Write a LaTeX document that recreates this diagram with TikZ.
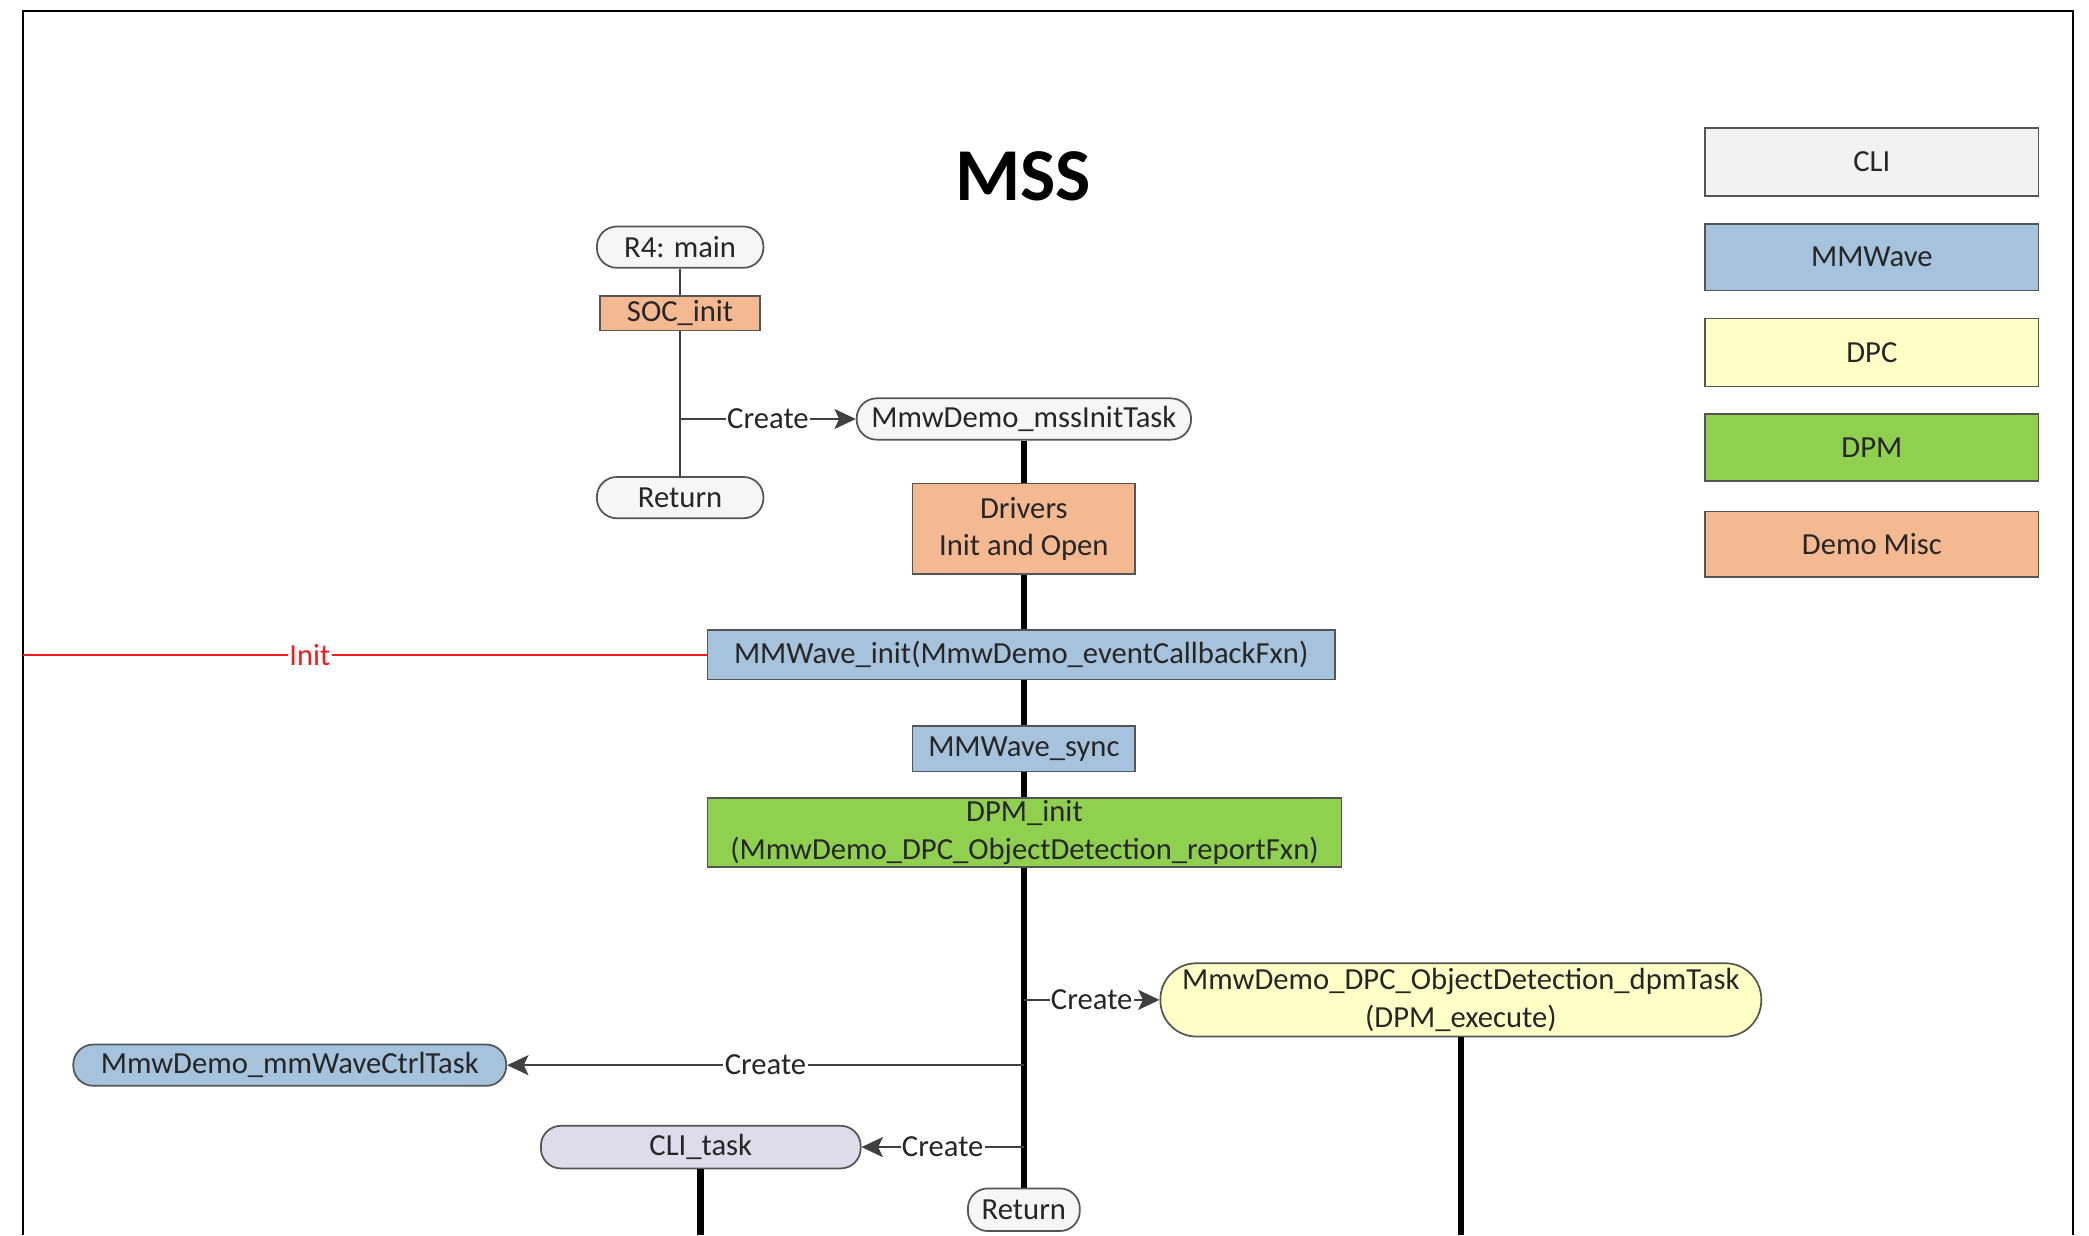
\documentclass[tikz,border=0pt]{standalone}
\usepackage{fontspec}
\setmainfont{Carlito}
\usetikzlibrary{arrows.meta,backgrounds}
\definecolor{txt}{HTML}{262626}
\definecolor{bord}{HTML}{555555}
\definecolor{conn}{HTML}{404040}
\definecolor{grayfill}{HTML}{F6F6F6}
\definecolor{clifill}{HTML}{F2F2F2}
\definecolor{orangefill}{HTML}{F4B990}
\definecolor{bluefill}{HTML}{A6C3DE}
\definecolor{yellowfill}{HTML}{FFFFC6}
\definecolor{greenfill}{HTML}{8FD14F}
\definecolor{lavfill}{HTML}{DEDCEB}
\definecolor{redline}{HTML}{F21C1C}
\begin{document}
\begin{tikzpicture}[x=1pt,y=-1pt,
  every node/.style={font=\fontsize{23}{28}\selectfont, text=txt, inner sep=0pt, align=center},
  stad/.style={draw=bord, line width=1.3pt, fill=#1, rounded corners=15pt},
  boxn/.style={draw=bord, line width=1.3pt, fill=#1},
  thickln/.style={line width=5pt, black},
  thinln/.style={line width=1.5pt, conn},
  arr/.style={thinln, -{Stealth[length=16pt,width=15pt,inset=3.5pt]}},
  lbl/.style={fill=white, inner sep=1pt, text=txt},
  frameln/.style={line width=1.5pt, black}
]
\useasboundingbox (0,0) rectangle (1568,927);

% frame
\coordinate (fbl) at (17,927);
\coordinate (ftl) at (17,8);
\coordinate (ftr) at (1556,8);
\coordinate (fbr) at (1556,927);
\draw[frameln] (fbl) -- (ftl) -- (ftr) -- (fbr);

% title
\node (title) at (768,132) {\fontsize{56}{60}\selectfont\bfseries\color{black}MSS};

% legend
\node[boxn=clifill, minimum width=250pt, minimum height=51pt] (legCLI) at (1405,121.5) {CLI};
\node[boxn=bluefill, minimum width=250pt, minimum height=50pt] (legMMW) at (1405,193) {MMWave};
\node[boxn=yellowfill, minimum width=250pt, minimum height=51pt] (legDPC) at (1405,264.5) {DPC};
\node[boxn=greenfill, minimum width=250pt, minimum height=50pt] (legDPM) at (1405,336) {DPM};
\node[boxn=orangefill, minimum width=250pt, minimum height=49pt] (legMisc) at (1405,408.5) {Demo Misc};

% left: main
\node[stad=grayfill, minimum width=125pt, minimum height=31pt] (r4main) at (510.5,185.5) {R4: main};
\node[boxn=orangefill, minimum width=120pt, minimum height=26pt] (soc) at (510.5,235) {SOC\_init};
\node[stad=grayfill, minimum width=125pt, minimum height=31pt] (ret1) at (510.5,373.5) {Return};

% center column
\node[stad=grayfill, minimum width=251pt, minimum height=31pt] (initTask) at (768.5,314.5) {MmwDemo\_mssInitTask};
\node[boxn=orangefill, minimum width=167pt, minimum height=68pt] (drv) at (768.5,397) {Drivers\\Init and Open};
\node[boxn=bluefill, minimum width=471pt, minimum height=37pt] (mmwinit) at (766.5,491.5) {MMWave\_init(MmwDemo\_eventCallbackFxn)};
\node[boxn=bluefill, minimum width=167pt, minimum height=34pt] (mmwsync) at (768.5,562) {MMWave\_sync};
\node[boxn=greenfill, minimum width=476pt, minimum height=52pt] (dpminit) at (769,625) {DPM\_init\\(MmwDemo\_DPC\_ObjectDetection\_reportFxn)};
\node[stad=yellowfill, rounded corners=27pt, minimum width=451pt, minimum height=55pt] (dpctask) at (1096.5,750.5) {MmwDemo\_DPC\_ObjectDetection\_dpmTask\\(DPM\_execute)};
\node[stad=bluefill, minimum width=325pt, minimum height=31pt] (ctrltask) at (217.5,799.5) {MmwDemo\_mmWaveCtrlTask};
\node[stad=lavfill, minimum width=240pt, minimum height=32pt] (clitask) at (526,861) {CLI\_task};
\node[stad=grayfill, minimum width=84pt, minimum height=32pt] (ret2) at (768.5,908) {Return};

% helper coordinates
\coordinate (c1) at (ret1.north |- initTask.west);
\coordinate (c2) at (initTask.south |- dpctask.west);
\coordinate (c3) at (initTask.south |- ctrltask.east);
\coordinate (c4) at (initTask.south |- clitask.east);
\coordinate (initL) at (ftl |- mmwinit.west);
\coordinate (dpcEnd) at (dpctask.south |- fbl);
\coordinate (cliEnd) at (clitask.south |- fbl);

\begin{scope}[on background layer]
  \fill[white] (0,0) rectangle (1568,927);
  \draw[thickln] (initTask.south) -- (ret2.north);
  \draw[thinln] (r4main.south) -- (soc.north);
  \draw[thinln] (soc.south) -- (ret1.north);
\end{scope}

\draw[arr] (c1) -- node[lbl] {Create} (initTask.west);
\draw[line width=1.5pt, redline] (initL) -- node[lbl, pos=0.42, text=redline] {Init} (mmwinit.west);
\draw[arr] (c2) -- node[lbl] {Create} (dpctask.west);
\draw[arr] (c3) -- node[lbl] {Create} (ctrltask.east);
\draw[arr] (c4) -- node[lbl] {Create} (clitask.east);

\draw[thickln] (dpctask.south) -- (dpcEnd);
\draw[thickln] (clitask.south) -- (cliEnd);
\end{tikzpicture}
\end{document}
